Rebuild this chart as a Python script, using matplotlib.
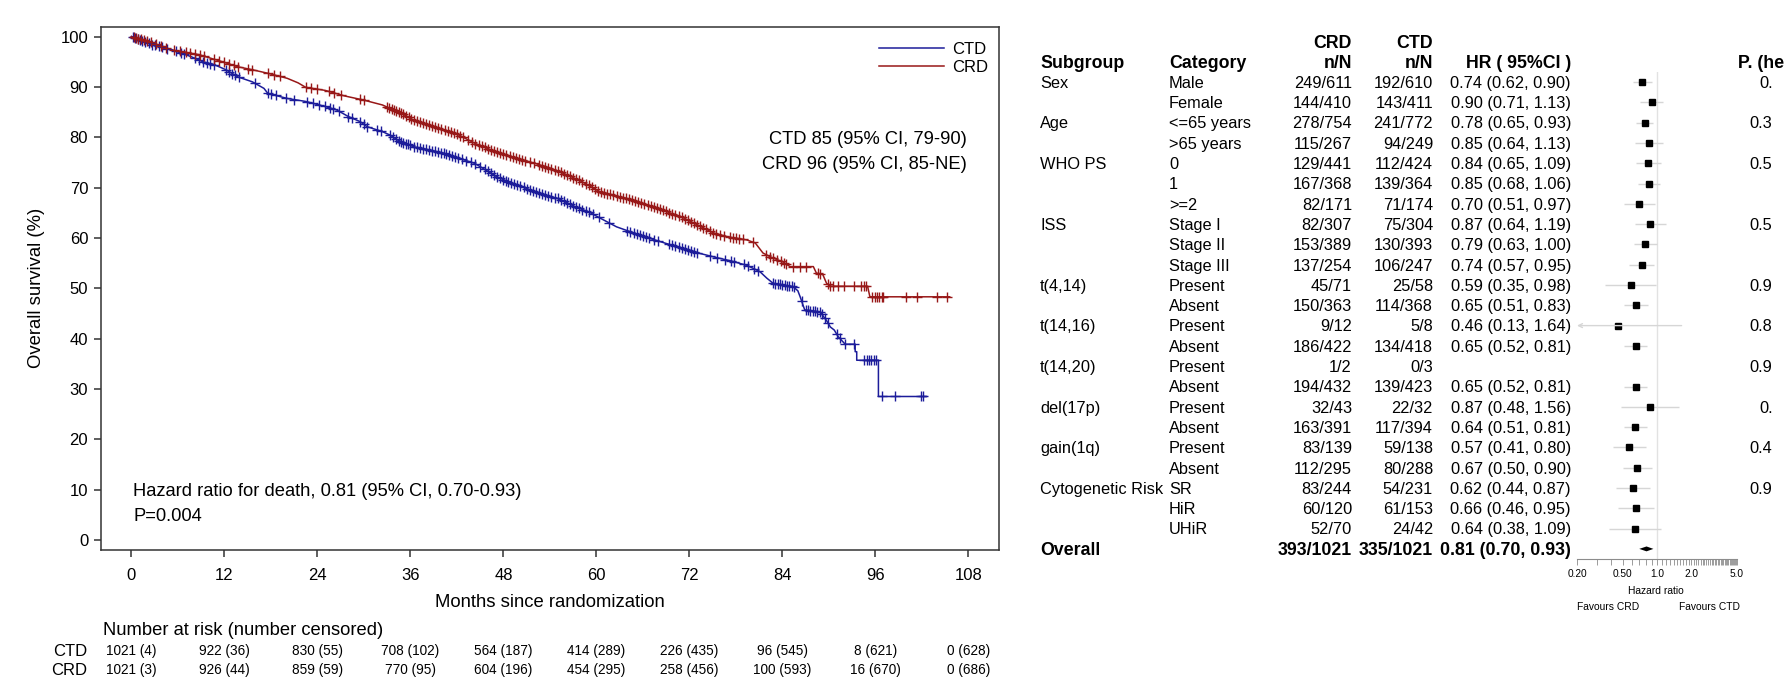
"""Overall survival (CTD vs CRD) with risk table and subgroup forest plot."""
import numpy as np
import matplotlib

matplotlib.use("Agg")
import matplotlib.pyplot as plt
from matplotlib.ticker import NullLocator

W, H, DPI = 1786, 681, 100

# Kaplan-Meier curves: months, % surviving
ctd_months = [0, 1.0, 2.8, 5.3, 7.7, 9.2, 10.7, 12.2, 13.7, 15.6, 17.1, 17.6, 20.1, 22.5,
              25.0, 26.5, 28.0, 29.5, 30.4, 32.4, 33.4, 34.4, 36.4, 38.3, 40.3, 42.3, 44.3,
              45.7, 47.2, 49.2, 51.2, 53.1, 55.1, 57.1, 59.1, 60.4, 62.6, 64.8, 66.9, 69.0,
              71.2, 73.4, 75.5, 77.7, 79.5, 81.1, 82.0, 82.8, 85.4, 86.0, 86.3, 86.7, 86.9,
              88.9, 89.3, 89.7, 90.2, 90.7, 91.2, 92.1, 93.4, 93.4, 93.6, 93.6, 96.4, 96.4,
              102.6]
ctd_surv = [100, 99.3, 98.3, 97.3, 96.0, 95.0, 94.4, 93.4, 92.0, 91.0, 89.7, 88.7, 87.7, 87.1,
            86.1, 85.4, 84.1, 83.1, 82.1, 81.1, 80.4, 79.4, 78.1, 77.5, 76.8, 75.8, 74.8,
            73.5, 72.1, 70.8, 69.7, 68.6, 67.8, 66.3, 65.1, 64.0, 62.2, 61.0, 59.9, 58.9,
            57.9, 56.9, 56.1, 55.3, 54.5, 53.3, 52.0, 51.0, 50.3, 49.5, 48.3, 46.5, 45.7,
            45.3, 44.4, 43.6, 42.3, 41.7, 40.4, 38.9, 38.9, 37.4, 37.4, 35.7, 35.7, 28.5,
            28.5]
crd_months = [0, 1.0, 2.8, 5.3, 8.7, 11.7, 13.7, 15.6, 17.6, 20.1, 21.5, 22.5, 25.0, 27.5,
              29.9, 32.4, 33.4, 34.9, 36.4, 38.3, 40.3, 42.3, 44.3, 46.2, 48.2, 50.2, 52.1,
              54.1, 56.1, 58.1, 60.4, 62.6, 64.8, 66.9, 69.1, 71.2, 73.4, 75.1, 77.0, 79.4,
              80.5, 81.5, 82.5, 84.1, 85.0, 88.0, 88.4, 89.2, 89.7, 90.2, 95.0, 95.3, 105.6]
crd_surv = [100, 99.5, 98.7, 97.3, 96.4, 95.0, 94.0, 93.4, 92.7, 91.7, 90.8, 89.9, 89.3, 88.2,
            87.4, 86.4, 85.7, 84.7, 83.4, 82.4, 81.4, 80.4, 78.8, 77.6, 76.5, 75.6, 74.8,
            73.8, 72.6, 71.2, 69.2, 68.3, 67.5, 66.3, 65.2, 64.0, 62.3, 61.0, 60.2, 59.6,
            59.0, 57.0, 56.2, 55.2, 54.3, 54.3, 53.0, 52.8, 51.0, 50.4, 50.4, 48.3, 48.3]

ctd_censor = [0.2, 0.5, 0.8, 1.1, 1.4, 1.8, 2.2, 2.6, 3.0, 3.5, 4.0, 4.6, 5.8, 6.4, 6.8, 8.2,
              8.7, 9.2, 9.7, 10.2, 10.6, 12.2, 12.6, 13.0, 13.4, 13.9, 15.9, 17.6, 18.0, 18.6,
              20.0, 21.0, 22.6, 23.4, 24.2, 25.0, 25.6, 26.0, 26.8, 28.0, 28.4, 29.5, 30.0,
              30.4, 31.7, 32.2, 33.4, 33.8, 34.2, 34.5, 34.8, 35.1, 35.4, 35.7, 36.0, 36.4,
              36.8, 37.2, 37.6, 38.0, 38.4, 38.8, 39.2, 39.6, 40.0, 40.3, 40.6, 41.0, 41.4,
              41.8, 42.2, 42.6, 43.2, 43.8, 44.4, 45.0, 45.6, 46.0, 46.4, 46.8, 47.2, 47.6,
              48.0, 48.3, 48.6, 49.0, 49.4, 49.8, 50.2, 50.6, 51.0, 51.4, 51.8, 52.2, 52.6,
              53.0, 53.4, 53.8, 54.2, 54.6, 55.0, 55.4, 55.8, 56.2, 56.6, 57.0, 57.4, 57.8,
              58.2, 58.6, 59.0, 59.6, 60.3, 61.6, 64.0, 64.4, 64.8, 65.2, 65.6, 66.0, 66.4,
              66.8, 67.4, 68.0, 69.4, 69.8, 70.2, 70.6, 71.0, 71.4, 71.8, 72.2, 72.6, 73.0,
              74.6, 75.6, 76.6, 77.4, 77.8, 79.0, 79.6, 80.4, 80.8, 82.8, 83.1, 83.4, 83.7,
              84.0, 84.3, 84.6, 84.9, 85.2, 85.5, 86.5, 87.0, 87.3, 87.6, 87.9, 88.2, 88.5,
              88.8, 89.1, 89.5, 89.9, 91.0, 91.4, 92.1, 93.2, 94.5, 94.9, 95.2, 95.5, 95.8,
              96.1, 96.9, 98.6, 101.9, 102.1]
crd_censor = [0.3, 0.6, 0.9, 1.2, 1.6, 2.0, 2.5, 3.2, 3.8, 4.5, 5.5, 6.2, 7.0, 7.6, 8.2, 8.8,
              9.4, 10.7, 11.3, 11.9, 12.6, 13.2, 13.7, 15.0, 15.6, 17.6, 18.4, 19.2, 22.5,
              23.2, 24.0, 25.5, 26.2, 27.0, 29.5, 30.0, 33.0, 33.3, 33.6, 33.9, 34.2, 34.5,
              34.8, 35.1, 35.4, 35.8, 36.1, 36.4, 36.8, 37.2, 37.6, 38.0, 38.4, 38.8, 39.2,
              39.6, 40.0, 40.4, 40.8, 41.2, 41.6, 42.0, 42.4, 42.8, 43.4, 44.0, 44.4, 44.8,
              45.2, 45.6, 46.0, 46.4, 46.8, 47.2, 47.6, 48.0, 48.4, 48.8, 49.2, 49.6, 50.0,
              50.4, 50.8, 51.4, 52.0, 52.6, 53.0, 53.4, 53.8, 54.2, 54.6, 55.0, 55.4, 55.8,
              56.2, 56.6, 57.0, 57.4, 57.8, 58.2, 58.6, 59.0, 59.4, 59.8, 60.2, 60.6, 61.0,
              61.4, 61.8, 62.2, 62.6, 63.0, 63.4, 63.8, 64.2, 64.6, 65.0, 65.4, 65.8, 66.2,
              66.6, 67.0, 67.4, 67.8, 68.2, 68.6, 69.0, 69.4, 69.8, 70.2, 70.6, 71.0, 71.4,
              71.8, 72.2, 72.6, 73.0, 73.4, 73.8, 74.2, 74.6, 75.1, 75.5, 75.9, 76.5, 77.2,
              77.6, 78.0, 78.4, 78.9, 80.2, 81.9, 82.4, 82.8, 83.3, 83.8, 84.2, 84.5, 85.4,
              86.3, 87.1, 88.6, 88.9, 89.9, 90.2, 90.6, 91.2, 91.9, 93.2, 94.2, 94.5, 94.8,
              95.6, 95.9, 96.2, 96.5, 96.8, 97.0, 100.0, 101.4, 104.0, 105.2]

risk_months = [0, 12, 24, 36, 48, 60, 72, 84, 96, 108]
ctd_at_risk = ["1021 (4)", "922 (36)", "830 (55)", "708 (102)", "564 (187)", "414 (289)",
               "226 (435)", "96 (545)", "8 (621)", "0 (628)"]
crd_at_risk = ["1021 (3)", "926 (44)", "859 (59)", "770 (95)", "604 (196)", "454 (295)",
               "258 (456)", "100 (593)", "16 (670)", "0 (686)"]

# Subgroup table
subgroups = ["Sex", "", "Age", "", "WHO PS", "", "", "ISS", "", "", "t(4,14)", "",
             "t(14,16)", "", "t(14,20)", "", "del(17p)", "", "gain(1q)", "",
             "Cytogenetic Risk", "", ""]
categories = ["Male", "Female", "<=65 years", ">65 years", "0", "1", ">=2", "Stage I",
              "Stage II", "Stage III", "Present", "Absent", "Present", "Absent", "Present",
              "Absent", "Present", "Absent", "Present", "Absent", "SR", "HiR", "UHiR"]
crd_events = ["249/611", "144/410", "278/754", "115/267", "129/441", "167/368", "82/171",
              "82/307", "153/389", "137/254", "45/71", "150/363", "9/12", "186/422", "1/2",
              "194/432", "32/43", "163/391", "83/139", "112/295", "83/244", "60/120", "52/70"]
ctd_events = ["192/610", "143/411", "241/772", "94/249", "112/424", "139/364", "71/174",
              "75/304", "130/393", "106/247", "25/58", "114/368", "5/8", "134/418", "0/3",
              "139/423", "22/32", "117/394", "59/138", "80/288", "54/231", "61/153", "24/42"]
hr = [0.74, 0.90, 0.78, 0.85, 0.84, 0.85, 0.70, 0.87, 0.79, 0.74, 0.59, 0.65, 0.46, 0.65,
      np.nan, 0.65, 0.87, 0.64, 0.57, 0.67, 0.62, 0.66, 0.64]
hr_lo = [0.62, 0.71, 0.65, 0.64, 0.65, 0.68, 0.51, 0.64, 0.63, 0.57, 0.35, 0.51, 0.13, 0.52,
         np.nan, 0.52, 0.48, 0.51, 0.41, 0.50, 0.44, 0.46, 0.38]
hr_hi = [0.90, 1.13, 0.93, 1.13, 1.09, 1.06, 0.97, 1.19, 1.00, 0.95, 0.98, 0.83, 1.64, 0.81,
         np.nan, 0.81, 1.56, 0.81, 0.80, 0.90, 0.87, 0.95, 1.09]
overall_events = ("393/1021", "335/1021")
overall_hr = (0.81, 0.70, 0.93)
# heterogeneity p column is cut off by the right edge of the picture
p_rows = [0, 2, 4, 7, 10, 12, 14, 16, 18, 20]
p_text = ["0.", "0.3", "0.5", "0.5", "0.9", "0.8", "0.9", "0.", "0.4", "0.9"]

CTD_COLOR = "#1c1c9a"
CRD_COLOR = "#981818"
FRAME = "#333333"


def put(fig, x, y, s, size, ha="left", bold=False):
    """Place text with its cap middle at figure pixel (x, y measured from top)."""
    fig.text(x / W, 1 - (y + 0.358 * size * DPI / 72) / H, s, ha=ha, va="baseline",
             fontsize=size, fontweight="bold" if bold else "normal")


def dtext(ax, x, y, s, size, ha="left"):
    """Data-coordinate text centred vertically on its capitals."""
    ax.annotate(s, xy=(x, y), xytext=(0, -0.358 * size), textcoords="offset points",
                ha=ha, va="baseline", fontsize=size)


def km_panel(fig):
    ax = fig.add_axes([100.7 / W, 1 - 550 / H, 898.6 / W, 523.3 / H])
    ax.plot(ctd_months, ctd_surv, color=CTD_COLOR, lw=1.1, label="CTD")
    ax.plot(crd_months, crd_surv, color=CRD_COLOR, lw=1.1, label="CRD")
    ax.plot(ctd_censor, np.interp(ctd_censor, ctd_months, ctd_surv), "+",
            color=CTD_COLOR, ms=7.5, mew=1.0)
    ax.plot(crd_censor, np.interp(crd_censor, crd_months, crd_surv), "+",
            color=CRD_COLOR, ms=7.5, mew=1.0)
    ax.set_xlim(-3.97, 112.0)
    ax.set_ylim(-1.99, 101.95)
    ax.set_xticks(risk_months)
    ax.set_yticks(range(0, 101, 10))
    ax.tick_params(labelsize=12, length=5, width=1.1, color=FRAME, pad=4)
    ax.tick_params(axis="x", pad=8)
    for sp in ax.spines.values():
        sp.set_linewidth(1.1)
        sp.set_color(FRAME)
    ax.legend(loc="upper right", bbox_to_anchor=(0.9874, 0.971), frameon=False,
              fontsize=12, handlelength=3.9, handletextpad=0.5, labelspacing=0.2,
              borderpad=0, borderaxespad=0)
    dtext(ax, 107.8, 80, "CTD 85 (95% CI, 79-90)", 13.2, ha="right")
    dtext(ax, 107.8, 75, "CRD 96 (95% CI, 85-NE)", 13.2, ha="right")
    dtext(ax, 0.2, 10, "Hazard ratio for death, 0.81 (95% CI, 0.70-0.93)", 13.2)
    dtext(ax, 0.2, 5, "P=0.004", 13.2)

    put(fig, 550, 600, "Months since randomization", 13.3, ha="center")
    fig.text(37 / W, 1 - 288 / H, "Overall survival (%)", rotation=90, ha="center",
             va="center", fontsize=13.3)

    # number at risk table
    put(fig, 103, 628, "Number at risk (number censored)", 13.2)
    for label, counts, y in (("CTD", ctd_at_risk, 650), ("CRD", crd_at_risk, 669)):
        put(fig, 87, y, label, 12, ha="right")
        for m, txt in zip(risk_months, counts):
            ax.annotate(txt, xy=(m, H - y), xycoords=("data", "figure pixels"),
                        xytext=(0, -0.358 * 9.8), textcoords="offset points",
                        ha="center", va="baseline", fontsize=9.8, annotation_clip=False)


def forest_panel(fig):
    row0, step = 82, 20.3
    rows = np.arange(len(categories))

    # text columns
    put(fig, 1040, 62, "Subgroup", 12.8, bold=True)
    put(fig, 1169, 62, "Category", 12.8, bold=True)
    put(fig, 1352, 42, "CRD", 12.8, ha="right", bold=True)
    put(fig, 1352, 62, "n/N", 12.8, ha="right", bold=True)
    put(fig, 1433, 42, "CTD", 12.8, ha="right", bold=True)
    put(fig, 1433, 62, "n/N", 12.8, ha="right", bold=True)
    put(fig, 1571, 62, "HR ( 95%CI )", 12.8, ha="right", bold=True)
    put(fig, 1738, 62, "P. (he", 12.8, bold=True)
    for i in rows:
        y = row0 + step * i
        put(fig, 1040, y, subgroups[i], 11.8)
        put(fig, 1169, y, categories[i], 11.8)
        put(fig, 1352, y, crd_events[i], 11.8, ha="right")
        put(fig, 1433, y, ctd_events[i], 11.8, ha="right")
        if not np.isnan(hr[i]):
            put(fig, 1571, y, f"{hr[i]:.2f} ({hr_lo[i]:.2f}, {hr_hi[i]:.2f})", 11.8,
                ha="right")
    for r, txt in zip(p_rows, p_text):
        x = 1749 if len(txt) > 2 else 1759
        put(fig, x, row0 + step * r, txt, 11.8)
    y_all = row0 + step * len(categories)
    put(fig, 1040, y_all, "Overall", 12.8, bold=True)
    put(fig, 1352, y_all, overall_events[0], 12.8, ha="right", bold=True)
    put(fig, 1433, y_all, overall_events[1], 12.8, ha="right", bold=True)
    put(fig, 1571, y_all, "%.2f (%.2f, %.2f)" % overall_hr, 12.8, ha="right", bold=True)

    # the forest itself
    fa = fig.add_axes([1577 / W, 1 - 559 / H, 160 / W, 487 / H])
    fa.set_xscale("log")
    fa.set_xlim(0.2, 5.0)
    fa.set_ylim((559 - row0) / step, (72 - row0) / step)
    fa.axvline(1.0, color="#e2e2e2", lw=1, zorder=0)
    lo = np.array(hr_lo)
    hi = np.array(hr_hi)
    inside = lo >= 0.2
    fa.hlines(rows[inside], lo[inside], hi[inside], color="#d6d6d6", lw=1)
    for r in rows[~inside & ~np.isnan(lo)]:
        fa.annotate("", xy=(0.2, r), xytext=(hi[r], r), annotation_clip=False,
                    arrowprops=dict(arrowstyle="->", color="#d6d6d6", lw=1,
                                    shrinkA=0, shrinkB=0, mutation_scale=7))
    fa.plot(hr, rows, "s", color="black", ms=3.8)
    r_all = len(categories)
    h, l, u = overall_hr
    fa.fill([l, h, u, h], [r_all, r_all - 0.12, r_all, r_all + 0.12], color="black",
            lw=0)

    ticks = np.round(np.arange(0.2, 5.001, 0.1), 1)
    names = {0.2: "0.20", 0.5: "0.50", 1.0: "1.0", 2.0: "2.0", 5.0: "5.0"}
    fa.set_xticks(ticks, [names.get(t, "") for t in ticks])
    fa.xaxis.set_minor_locator(NullLocator())
    fa.set_yticks([])
    fa.tick_params(axis="x", length=4.3, width=0.6, color="#8c8c8c", labelsize=7.3,
                   pad=3)
    for side in ("top", "left", "right"):
        fa.spines[side].set_visible(False)
    fa.spines["bottom"].set_color("#8c8c8c")
    fa.spines["bottom"].set_linewidth(0.8)
    fa.patch.set_visible(False)

    put(fig, 1656, 590, "Hazard ratio", 7.4, ha="center")
    put(fig, 1577, 606, "Favours CRD", 7.4)
    put(fig, 1740, 606, "Favours CTD", 7.4, ha="right")


def main():
    plt.rcParams["font.family"] = ["Liberation Sans", "DejaVu Sans"]
    fig = plt.figure(figsize=(W / DPI, H / DPI), dpi=DPI)
    km_panel(fig)
    forest_panel(fig)
    fig.savefig("out.png", dpi=DPI)
    plt.close(fig)


if __name__ == "__main__":
    main()
